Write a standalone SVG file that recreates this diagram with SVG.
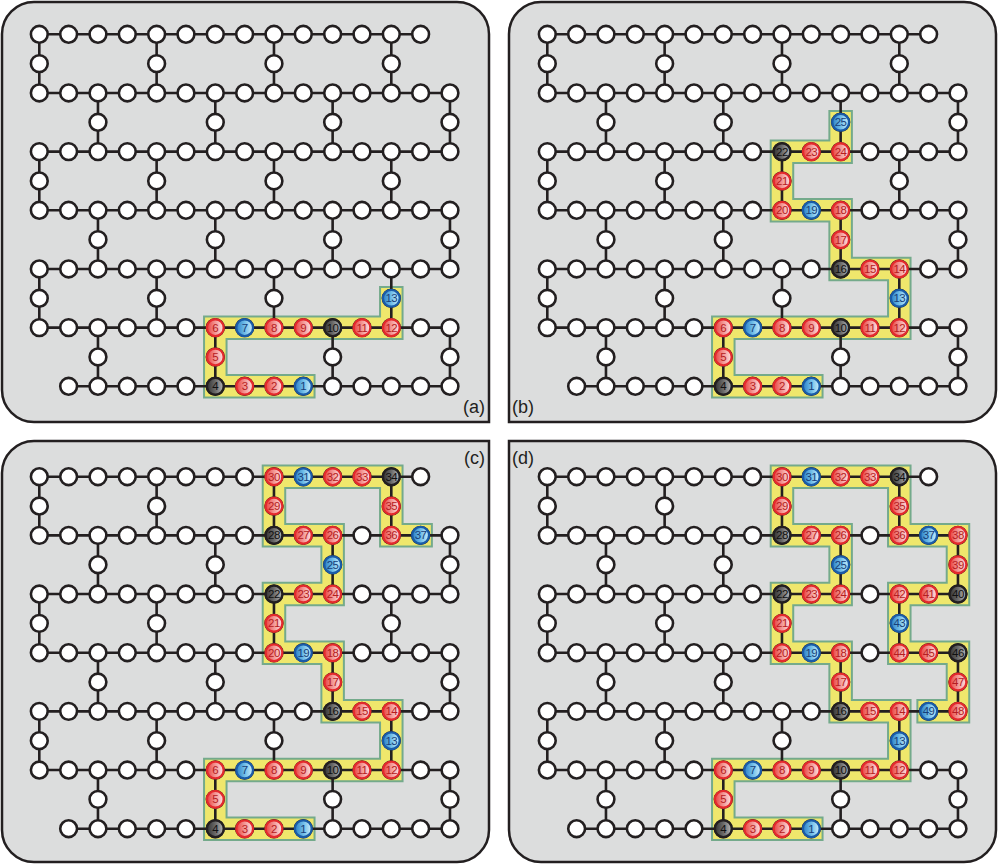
<svg xmlns="http://www.w3.org/2000/svg" xmlns:xlink="http://www.w3.org/1999/xlink" width="998" height="864" viewBox="0 0 998 864">
<style>
.panel{fill:#dcdddd;stroke:#231f20;stroke-width:2.5}
.edges{fill:none;stroke:#231f20;stroke-width:2.6}
.w circle{fill:#fff;stroke:#231f20;stroke-width:2.6}
.bo{fill:none;stroke:#74aa8b;stroke-width:24.5;stroke-linecap:square;stroke-linejoin:miter}
.bi{fill:none;stroke:#efe76c;stroke-width:20.5;stroke-linecap:square;stroke-linejoin:miter}
.r circle{fill:url(#gr);stroke:#e42a2c;stroke-width:2.3}
.b circle{fill:url(#gb);stroke:#1a5ca8;stroke-width:2.3}
.k circle{fill:url(#gk);stroke:#231f20;stroke-width:2.3}
.r text,.b text,.k text{font-family:"Liberation Sans",Arial,sans-serif;font-size:11.5px;text-anchor:middle;letter-spacing:-0.5px}
.r text{fill:#b51d22}
.b text{fill:#173f7a}
.k text{fill:#111}
.lbl{font-family:"Liberation Sans",Arial,sans-serif;font-size:18px;fill:#231f20}
</style>
<defs>
<linearGradient id="gr" x1="0" y1="0" x2="1" y2="0"><stop offset="0" stop-color="#e8403f"/><stop offset="0.45" stop-color="#f28f8d"/><stop offset="1" stop-color="#fde3e2"/></linearGradient>
<linearGradient id="gb" x1="0" y1="0" x2="1" y2="0"><stop offset="0" stop-color="#2a7fc7"/><stop offset="0.5" stop-color="#6fbde8"/><stop offset="1" stop-color="#cdeefa"/></linearGradient>
<linearGradient id="gk" x1="0" y1="0" x2="1" y2="0"><stop offset="0" stop-color="#333"/><stop offset="0.5" stop-color="#6a6a6a"/><stop offset="1" stop-color="#b8b8b8"/></linearGradient>
<g id="lattice">
<path class="edges" d="M0,0H381.33 M0,58.67H410.67 M0,117.33H410.67 M0,176H410.67 M0,234.67H410.67 M0,293.33H410.67 M29.33,352H410.67 M0,0V58.67 M117.33,0V58.67 M234.67,0V58.67 M352,0V58.67 M58.67,58.67V117.33 M176,58.67V117.33 M293.33,58.67V117.33 M410.67,58.67V117.33 M0,117.33V176 M117.33,117.33V176 M234.67,117.33V176 M352,117.33V176 M58.67,176V234.67 M176,176V234.67 M293.33,176V234.67 M410.67,176V234.67 M0,234.67V293.33 M117.33,234.67V293.33 M234.67,234.67V293.33 M352,234.67V293.33 M58.67,293.33V352 M176,293.33V352 M293.33,293.33V352 M410.67,293.33V352"/>
<g class="w">
<circle id="q0" cx="0" cy="0" r="8.4"/><circle id="q1" cx="29.33" cy="0" r="8.4"/><circle id="q2" cx="58.67" cy="0" r="8.4"/><circle id="q3" cx="88" cy="0" r="8.4"/><circle id="q4" cx="117.33" cy="0" r="8.4"/><circle id="q5" cx="146.67" cy="0" r="8.4"/><circle id="q6" cx="176" cy="0" r="8.4"/><circle id="q7" cx="205.33" cy="0" r="8.4"/><circle id="q8" cx="234.67" cy="0" r="8.4"/><circle id="q9" cx="264" cy="0" r="8.4"/><circle id="q10" cx="293.33" cy="0" r="8.4"/><circle id="q11" cx="322.67" cy="0" r="8.4"/><circle id="q12" cx="352" cy="0" r="8.4"/><circle id="q13" cx="381.33" cy="0" r="8.4"/>
<circle id="q14" cx="0" cy="29.33" r="8.4"/><circle id="q15" cx="117.33" cy="29.33" r="8.4"/><circle id="q16" cx="234.67" cy="29.33" r="8.4"/><circle id="q17" cx="352" cy="29.33" r="8.4"/>
<circle id="q18" cx="0" cy="58.67" r="8.4"/><circle id="q19" cx="29.33" cy="58.67" r="8.4"/><circle id="q20" cx="58.67" cy="58.67" r="8.4"/><circle id="q21" cx="88" cy="58.67" r="8.4"/><circle id="q22" cx="117.33" cy="58.67" r="8.4"/><circle id="q23" cx="146.67" cy="58.67" r="8.4"/><circle id="q24" cx="176" cy="58.67" r="8.4"/><circle id="q25" cx="205.33" cy="58.67" r="8.4"/><circle id="q26" cx="234.67" cy="58.67" r="8.4"/><circle id="q27" cx="264" cy="58.67" r="8.4"/><circle id="q28" cx="293.33" cy="58.67" r="8.4"/><circle id="q29" cx="322.67" cy="58.67" r="8.4"/><circle id="q30" cx="352" cy="58.67" r="8.4"/><circle id="q31" cx="381.33" cy="58.67" r="8.4"/><circle id="q32" cx="410.67" cy="58.67" r="8.4"/>
<circle id="q33" cx="58.67" cy="88" r="8.4"/><circle id="q34" cx="176" cy="88" r="8.4"/><circle id="q35" cx="293.33" cy="88" r="8.4"/><circle id="q36" cx="410.67" cy="88" r="8.4"/>
<circle id="q37" cx="0" cy="117.33" r="8.4"/><circle id="q38" cx="29.33" cy="117.33" r="8.4"/><circle id="q39" cx="58.67" cy="117.33" r="8.4"/><circle id="q40" cx="88" cy="117.33" r="8.4"/><circle id="q41" cx="117.33" cy="117.33" r="8.4"/><circle id="q42" cx="146.67" cy="117.33" r="8.4"/><circle id="q43" cx="176" cy="117.33" r="8.4"/><circle id="q44" cx="205.33" cy="117.33" r="8.4"/><circle id="q45" cx="234.67" cy="117.33" r="8.4"/><circle id="q46" cx="264" cy="117.33" r="8.4"/><circle id="q47" cx="293.33" cy="117.33" r="8.4"/><circle id="q48" cx="322.67" cy="117.33" r="8.4"/><circle id="q49" cx="352" cy="117.33" r="8.4"/><circle id="q50" cx="381.33" cy="117.33" r="8.4"/><circle id="q51" cx="410.67" cy="117.33" r="8.4"/>
<circle id="q52" cx="0" cy="146.67" r="8.4"/><circle id="q53" cx="117.33" cy="146.67" r="8.4"/><circle id="q54" cx="234.67" cy="146.67" r="8.4"/><circle id="q55" cx="352" cy="146.67" r="8.4"/>
<circle id="q56" cx="0" cy="176" r="8.4"/><circle id="q57" cx="29.33" cy="176" r="8.4"/><circle id="q58" cx="58.67" cy="176" r="8.4"/><circle id="q59" cx="88" cy="176" r="8.4"/><circle id="q60" cx="117.33" cy="176" r="8.4"/><circle id="q61" cx="146.67" cy="176" r="8.4"/><circle id="q62" cx="176" cy="176" r="8.4"/><circle id="q63" cx="205.33" cy="176" r="8.4"/><circle id="q64" cx="234.67" cy="176" r="8.4"/><circle id="q65" cx="264" cy="176" r="8.4"/><circle id="q66" cx="293.33" cy="176" r="8.4"/><circle id="q67" cx="322.67" cy="176" r="8.4"/><circle id="q68" cx="352" cy="176" r="8.4"/><circle id="q69" cx="381.33" cy="176" r="8.4"/><circle id="q70" cx="410.67" cy="176" r="8.4"/>
<circle id="q71" cx="58.67" cy="205.33" r="8.4"/><circle id="q72" cx="176" cy="205.33" r="8.4"/><circle id="q73" cx="293.33" cy="205.33" r="8.4"/><circle id="q74" cx="410.67" cy="205.33" r="8.4"/>
<circle id="q75" cx="0" cy="234.67" r="8.4"/><circle id="q76" cx="29.33" cy="234.67" r="8.4"/><circle id="q77" cx="58.67" cy="234.67" r="8.4"/><circle id="q78" cx="88" cy="234.67" r="8.4"/><circle id="q79" cx="117.33" cy="234.67" r="8.4"/><circle id="q80" cx="146.67" cy="234.67" r="8.4"/><circle id="q81" cx="176" cy="234.67" r="8.4"/><circle id="q82" cx="205.33" cy="234.67" r="8.4"/><circle id="q83" cx="234.67" cy="234.67" r="8.4"/><circle id="q84" cx="264" cy="234.67" r="8.4"/><circle id="q85" cx="293.33" cy="234.67" r="8.4"/><circle id="q86" cx="322.67" cy="234.67" r="8.4"/><circle id="q87" cx="352" cy="234.67" r="8.4"/><circle id="q88" cx="381.33" cy="234.67" r="8.4"/><circle id="q89" cx="410.67" cy="234.67" r="8.4"/>
<circle id="q90" cx="0" cy="264" r="8.4"/><circle id="q91" cx="117.33" cy="264" r="8.4"/><circle id="q92" cx="234.67" cy="264" r="8.4"/><circle id="q93" cx="352" cy="264" r="8.4"/>
<circle id="q94" cx="0" cy="293.33" r="8.4"/><circle id="q95" cx="29.33" cy="293.33" r="8.4"/><circle id="q96" cx="58.67" cy="293.33" r="8.4"/><circle id="q97" cx="88" cy="293.33" r="8.4"/><circle id="q98" cx="117.33" cy="293.33" r="8.4"/><circle id="q99" cx="146.67" cy="293.33" r="8.4"/><circle id="q100" cx="176" cy="293.33" r="8.4"/><circle id="q101" cx="205.33" cy="293.33" r="8.4"/><circle id="q102" cx="234.67" cy="293.33" r="8.4"/><circle id="q103" cx="264" cy="293.33" r="8.4"/><circle id="q104" cx="293.33" cy="293.33" r="8.4"/><circle id="q105" cx="322.67" cy="293.33" r="8.4"/><circle id="q106" cx="352" cy="293.33" r="8.4"/><circle id="q107" cx="381.33" cy="293.33" r="8.4"/><circle id="q108" cx="410.67" cy="293.33" r="8.4"/>
<circle id="q109" cx="58.67" cy="322.67" r="8.4"/><circle id="q110" cx="176" cy="322.67" r="8.4"/><circle id="q111" cx="293.33" cy="322.67" r="8.4"/><circle id="q112" cx="410.67" cy="322.67" r="8.4"/>
<circle id="q113" cx="29.33" cy="352" r="8.4"/><circle id="q114" cx="58.67" cy="352" r="8.4"/><circle id="q115" cx="88" cy="352" r="8.4"/><circle id="q116" cx="117.33" cy="352" r="8.4"/><circle id="q117" cx="146.67" cy="352" r="8.4"/><circle id="q118" cx="176" cy="352" r="8.4"/><circle id="q119" cx="205.33" cy="352" r="8.4"/><circle id="q120" cx="234.67" cy="352" r="8.4"/><circle id="q121" cx="264" cy="352" r="8.4"/><circle id="q122" cx="293.33" cy="352" r="8.4"/><circle id="q123" cx="322.67" cy="352" r="8.4"/><circle id="q124" cx="352" cy="352" r="8.4"/><circle id="q125" cx="381.33" cy="352" r="8.4"/><circle id="q126" cx="410.67" cy="352" r="8.4"/>
</g>
</g>
<g id="seg1">
<g id="n1" class="b"><circle cx="264" cy="352" r="8.4"/><text x="264" y="356">1</text></g>
<g id="n2" class="r"><circle cx="234.67" cy="352" r="8.4"/><text x="234.67" y="356">2</text></g>
<g id="n3" class="r"><circle cx="205.33" cy="352" r="8.4"/><text x="205.33" y="356">3</text></g>
<g id="n4" class="k"><circle cx="176" cy="352" r="8.4"/><text x="176" y="356">4</text></g>
<g id="n5" class="r"><circle cx="176" cy="322.67" r="8.4"/><text x="176" y="326.67">5</text></g>
<g id="n6" class="r"><circle cx="176" cy="293.33" r="8.4"/><text x="176" y="297.33">6</text></g>
<g id="n7" class="b"><circle cx="205.33" cy="293.33" r="8.4"/><text x="205.33" y="297.33">7</text></g>
<g id="n8" class="r"><circle cx="234.67" cy="293.33" r="8.4"/><text x="234.67" y="297.33">8</text></g>
<g id="n9" class="r"><circle cx="264" cy="293.33" r="8.4"/><text x="264" y="297.33">9</text></g>
<g id="n10" class="k"><circle cx="293.33" cy="293.33" r="8.4"/><text x="293.33" y="297.33">10</text></g>
<g id="n11" class="r"><circle cx="322.67" cy="293.33" r="8.4"/><text x="322.67" y="297.33">11</text></g>
<g id="n12" class="r"><circle cx="352" cy="293.33" r="8.4"/><text x="352" y="297.33">12</text></g>
<g id="n13" class="b"><circle cx="352" cy="264" r="8.4"/><text x="352" y="268">13</text></g>
</g>
<g id="seg2">
<g id="n14" class="r"><circle cx="352" cy="234.67" r="8.4"/><text x="352" y="238.67">14</text></g>
<g id="n15" class="r"><circle cx="322.67" cy="234.67" r="8.4"/><text x="322.67" y="238.67">15</text></g>
<g id="n16" class="k"><circle cx="293.33" cy="234.67" r="8.4"/><text x="293.33" y="238.67">16</text></g>
<g id="n17" class="r"><circle cx="293.33" cy="205.33" r="8.4"/><text x="293.33" y="209.33">17</text></g>
<g id="n18" class="r"><circle cx="293.33" cy="176" r="8.4"/><text x="293.33" y="180">18</text></g>
<g id="n19" class="b"><circle cx="264" cy="176" r="8.4"/><text x="264" y="180">19</text></g>
<g id="n20" class="r"><circle cx="234.67" cy="176" r="8.4"/><text x="234.67" y="180">20</text></g>
<g id="n21" class="r"><circle cx="234.67" cy="146.67" r="8.4"/><text x="234.67" y="150.67">21</text></g>
<g id="n22" class="k"><circle cx="234.67" cy="117.33" r="8.4"/><text x="234.67" y="121.33">22</text></g>
<g id="n23" class="r"><circle cx="264" cy="117.33" r="8.4"/><text x="264" y="121.33">23</text></g>
<g id="n24" class="r"><circle cx="293.33" cy="117.33" r="8.4"/><text x="293.33" y="121.33">24</text></g>
<g id="n25" class="b"><circle cx="293.33" cy="88" r="8.4"/><text x="293.33" y="92">25</text></g>
</g>
<g id="seg3">
<g id="n26" class="r"><circle cx="293.33" cy="58.67" r="8.4"/><text x="293.33" y="62.67">26</text></g>
<g id="n27" class="r"><circle cx="264" cy="58.67" r="8.4"/><text x="264" y="62.67">27</text></g>
<g id="n28" class="k"><circle cx="234.67" cy="58.67" r="8.4"/><text x="234.67" y="62.67">28</text></g>
<g id="n29" class="r"><circle cx="234.67" cy="29.33" r="8.4"/><text x="234.67" y="33.33">29</text></g>
<g id="n30" class="r"><circle cx="234.67" cy="0" r="8.4"/><text x="234.67" y="4">30</text></g>
<g id="n31" class="b"><circle cx="264" cy="0" r="8.4"/><text x="264" y="4">31</text></g>
<g id="n32" class="r"><circle cx="293.33" cy="0" r="8.4"/><text x="293.33" y="4">32</text></g>
<g id="n33" class="r"><circle cx="322.67" cy="0" r="8.4"/><text x="322.67" y="4">33</text></g>
<g id="n34" class="k"><circle cx="352" cy="0" r="8.4"/><text x="352" y="4">34</text></g>
<g id="n35" class="r"><circle cx="352" cy="29.33" r="8.4"/><text x="352" y="33.33">35</text></g>
<g id="n36" class="r"><circle cx="352" cy="58.67" r="8.4"/><text x="352" y="62.67">36</text></g>
<g id="n37" class="b"><circle cx="381.33" cy="58.67" r="8.4"/><text x="381.33" y="62.67">37</text></g>
</g>
<g id="seg4">
<g id="n38" class="r"><circle cx="410.67" cy="58.67" r="8.4"/><text x="410.67" y="62.67">38</text></g>
<g id="n39" class="r"><circle cx="410.67" cy="88" r="8.4"/><text x="410.67" y="92">39</text></g>
<g id="n40" class="k"><circle cx="410.67" cy="117.33" r="8.4"/><text x="410.67" y="121.33">40</text></g>
<g id="n41" class="r"><circle cx="381.33" cy="117.33" r="8.4"/><text x="381.33" y="121.33">41</text></g>
<g id="n42" class="r"><circle cx="352" cy="117.33" r="8.4"/><text x="352" y="121.33">42</text></g>
<g id="n43" class="b"><circle cx="352" cy="146.67" r="8.4"/><text x="352" y="150.67">43</text></g>
<g id="n44" class="r"><circle cx="352" cy="176" r="8.4"/><text x="352" y="180">44</text></g>
<g id="n45" class="r"><circle cx="381.33" cy="176" r="8.4"/><text x="381.33" y="180">45</text></g>
<g id="n46" class="k"><circle cx="410.67" cy="176" r="8.4"/><text x="410.67" y="180">46</text></g>
<g id="n47" class="r"><circle cx="410.67" cy="205.33" r="8.4"/><text x="410.67" y="209.33">47</text></g>
<g id="n48" class="r"><circle cx="410.67" cy="234.67" r="8.4"/><text x="410.67" y="238.67">48</text></g>
<g id="n49" class="b"><circle cx="381.33" cy="234.67" r="8.4"/><text x="381.33" y="238.67">49</text></g>
</g>
</defs>

<g id="panels">
<path class="panel" d="M34,2 H457 A32,32 0 0 1 489,34 V422 H34 A32,32 0 0 1 2,390 V34 A32,32 0 0 1 34,2 Z"/>
<path class="panel" d="M541,2 H964 A32,32 0 0 1 996,34 V390 A32,32 0 0 1 964,422 H509 V34 A32,32 0 0 1 541,2 Z"/>
<path class="panel" d="M34,441 H489 V830 A32,32 0 0 1 457,862 H34 A32,32 0 0 1 2,830 V473 A32,32 0 0 1 34,441 Z"/>
<path class="panel" d="M509,441 H964 A32,32 0 0 1 996,473 V830 A32,32 0 0 1 964,862 H541 A32,32 0 0 1 509,830 Z"/>
<text class="lbl" x="485" y="413" text-anchor="end">(a)</text>
<text class="lbl" x="512" y="413">(b)</text>
<text class="lbl" x="485" y="464" text-anchor="end">(c)</text>
<text class="lbl" x="512" y="464">(d)</text>
</g>

<g id="panel-a" transform="translate(39.3,34.3)">
<g id="band-a"><path class="bo" d="M264,352 H176 V293.33 H352 V264"/><path class="bi" d="M264,352 H176 V293.33 H352 V264"/></g>
<use href="#lattice" xlink:href="#lattice"/>
<use href="#seg1" xlink:href="#seg1"/>
</g>

<g id="panel-b" transform="translate(547.3,34.3)">
<g id="band-b"><path class="bo" d="M264,352 H176 V293.33 H352 V234.67 H293.33 V176 H234.67 V117.33 H293.33 V88"/><path class="bi" d="M264,352 H176 V293.33 H352 V234.67 H293.33 V176 H234.67 V117.33 H293.33 V88"/></g>
<use href="#lattice" xlink:href="#lattice"/>
<use href="#seg1" xlink:href="#seg1"/>
<use href="#seg2" xlink:href="#seg2"/>
</g>

<g id="panel-c" transform="translate(39.3,476.7)">
<g id="band-c"><path class="bo" d="M264,352 H176 V293.33 H352 V234.67 H293.33 V176 H234.67 V117.33 H293.33 V58.67 H234.67 V0 H352 V58.67 H381.33"/><path class="bi" d="M264,352 H176 V293.33 H352 V234.67 H293.33 V176 H234.67 V117.33 H293.33 V58.67 H234.67 V0 H352 V58.67 H381.33"/></g>
<use href="#lattice" xlink:href="#lattice"/>
<use href="#seg1" xlink:href="#seg1"/>
<use href="#seg2" xlink:href="#seg2"/>
<use href="#seg3" xlink:href="#seg3"/>
</g>

<g id="panel-d" transform="translate(547.3,476.7)">
<g id="band-d"><path class="bo" d="M264,352 H176 V293.33 H352 V234.67 H293.33 V176 H234.67 V117.33 H293.33 V58.67 H234.67 V0 H352 V58.67 H410.67 V117.33 H352 V176 H410.67 V234.67 H381.33"/><path class="bi" d="M264,352 H176 V293.33 H352 V234.67 H293.33 V176 H234.67 V117.33 H293.33 V58.67 H234.67 V0 H352 V58.67 H410.67 V117.33 H352 V176 H410.67 V234.67 H381.33"/></g>
<use href="#lattice" xlink:href="#lattice"/>
<use href="#seg1" xlink:href="#seg1"/>
<use href="#seg2" xlink:href="#seg2"/>
<use href="#seg3" xlink:href="#seg3"/>
<use href="#seg4" xlink:href="#seg4"/>
</g>
</svg>
